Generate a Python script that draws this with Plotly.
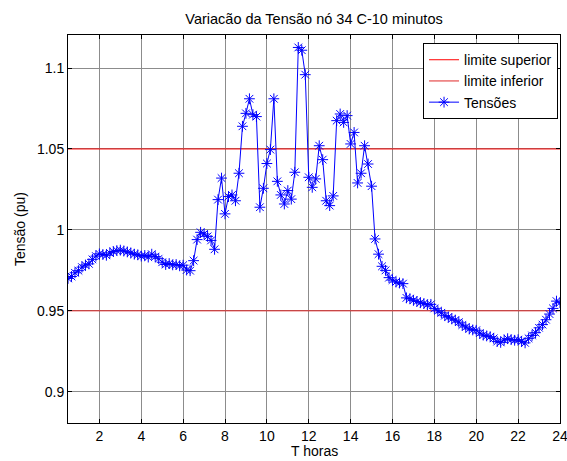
import plotly.graph_objects as go

# Tempo em minutos (amostras de 10 em 10 minutos) e tensões medidas no nó 34 (pu)
minutos = list(range(30, 1441, 10))
tensoes = [
    # 0.5 h .. 7.5 h
    0.9700, 0.9712, 0.9735, 0.9748, 0.9770, 0.9783, 0.9790, 0.9818, 0.9838, 0.9852,
    0.9848, 0.9843, 0.9858, 0.9866, 0.9872, 0.9875, 0.9870, 0.9864, 0.9858, 0.9850,
    0.9846, 0.9838, 0.9842, 0.9832, 0.9850, 0.9835, 0.9822, 0.9800, 0.9786, 0.9792,
    0.9784, 0.9786, 0.9778, 0.9782, 0.9752, 0.9748, 0.9810, 0.9940, 0.9985, 0.9975,
    0.9960, 0.9935, 0.9880,
    # 7.67 h .. 15.67 h
    1.0187, 1.0320, 1.0099, 1.0206, 1.0216, 1.0180, 1.0350, 1.0640, 1.0720, 1.0810,
    1.0712, 1.0700, 1.0140, 1.0257, 1.0410, 1.0496, 1.0810, 1.0300, 1.0216, 1.0160,
    1.0243, 1.0190, 1.0356, 1.1127, 1.1110, 1.0959, 1.0325, 1.0263, 1.0315, 1.0520,
    1.0434, 1.0180, 1.0150, 1.0210, 1.0675, 1.0716, 1.0664, 1.0706, 1.0531, 1.0602,
    1.0290, 1.0350, 1.0520, 1.0407, 1.0270, 0.9944, 0.9850, 0.9775, 0.9750,
    # 15.83 h .. 24 h
    0.9705, 0.9690, 0.9678, 0.9672, 0.9668, 0.9580, 0.9575, 0.9565, 0.9558, 0.9550,
    0.9545, 0.9538, 0.9540, 0.9515, 0.9500, 0.9488, 0.9470, 0.9462, 0.9450, 0.9443,
    0.9430, 0.9412, 0.9400, 0.9388, 0.9382, 0.9380, 0.9362, 0.9350, 0.9345, 0.9340,
    0.9330, 0.9310, 0.9305, 0.9320, 0.9328, 0.9322, 0.9318, 0.9322, 0.9310, 0.9302,
    0.9330, 0.9348, 0.9365, 0.9395, 0.9415, 0.9445, 0.9480, 0.9515, 0.9560, 0.9550,
]
horas = [m / 60 for m in minutos]

limite_superior = 1.05
limite_inferior = 0.95

x_ticks = [2, 4, 6, 8, 10, 12, 14, 16, 18, 20, 22, 24]
y_ticks = [0.9, 0.95, 1.0, 1.05, 1.1]
y_tick_labels = ["0.9", "0.95", "1", "1.05", "1.1"]

FONT = "Liberation Sans, Arial, sans-serif"

fig = go.Figure()
fig.add_trace(go.Scatter(
    x=[horas[0], horas[-1]], y=[limite_superior, limite_superior],
    mode="lines", name="limite superior",
    line=dict(color="#ff0000", width=1),
))
fig.add_trace(go.Scatter(
    x=[horas[0], horas[-1]], y=[limite_inferior, limite_inferior],
    mode="lines", name="limite inferior",
    line=dict(color="#e02828", width=1),
))
fig.add_trace(go.Scatter(
    x=horas, y=tensoes, mode="lines+markers", name="Tensões",
    line=dict(color="#0000ff", width=1),
    marker=dict(symbol="asterisk-open", size=9, color="#0000ff",
                line=dict(color="#0000ff", width=1)),
))

axis_common = dict(
    showline=True, linecolor="black", linewidth=1, mirror="ticks",
    ticks="inside", ticklen=4, tickcolor="black", tickwidth=1,
    showgrid=True, gridcolor="#8c8c8c", gridwidth=1,
    zeroline=False, automargin=False,
    tickfont=dict(family=FONT, size=14, color="black"),
)

fig.update_layout(
    width=567, height=461,
    margin=dict(l=68, r=7, t=35, b=38),
    paper_bgcolor="white", plot_bgcolor="white",
    font=dict(family=FONT, size=14, color="black"),
    title=dict(text="Variacão da Tensão nó 34 C-10 minutos",
               x=(68 + 560) / 2 / 567, xanchor="center",
               y=1 - 19 / 461, yanchor="middle", yref="container",
               font=dict(family=FONT, size=14.5, color="black")),
    xaxis=dict(range=[0.5, 24.001], tickvals=x_ticks, ticktext=[str(v) for v in x_ticks],
               ticklabeloverflow="allow", **axis_common),
    yaxis=dict(range=[0.8807, 1.1204], tickvals=y_ticks, ticktext=y_tick_labels,
               **axis_common),
    legend=dict(x=0.996, y=0.979, xanchor="right", yanchor="top",
                bgcolor="white", bordercolor="black", borderwidth=1,
                font=dict(family=FONT, size=14, color="black"),
                tracegroupgap=0, itemwidth=30),
    showlegend=True,
    annotations=[
        dict(text="T horas", xref="paper", yref="paper",
             x=0.5, y=-(451 - 423) / 388, xanchor="center", yanchor="middle",
             showarrow=False, font=dict(family=FONT, size=14, color="black")),
        dict(text="Tensão (pu)", xref="paper", yref="paper",
             x=-(68 - 20) / 492, y=0.5, xanchor="center", yanchor="middle",
             textangle=-90, showarrow=False,
             font=dict(family=FONT, size=14, color="black")),
    ],
)

fig.write_html("out.html")
